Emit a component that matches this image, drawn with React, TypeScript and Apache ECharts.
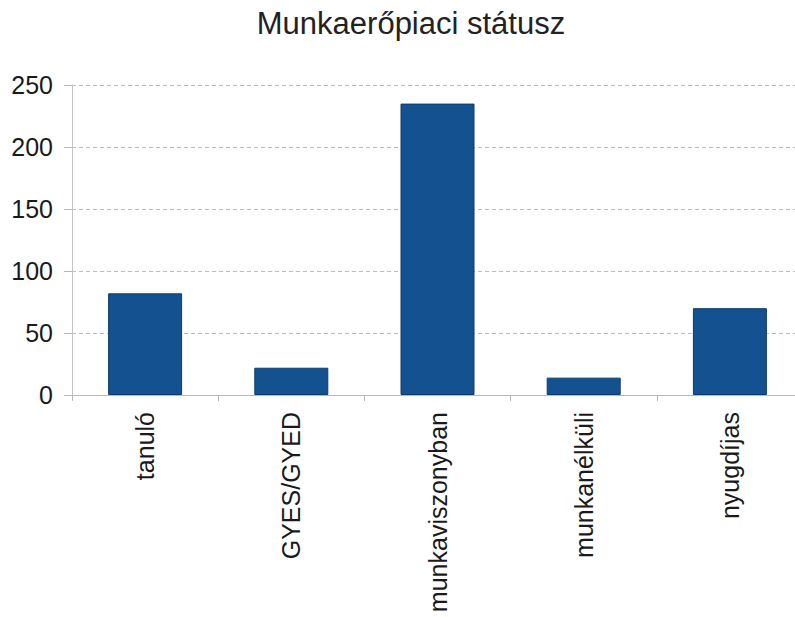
import React, { useEffect, useRef } from "react";
import * as echarts from "echarts";

const titleText = "Munkaerőpiaci státusz";
const categories = ["tanuló", "GYES/GYED", "munkaviszonyban", "munkanélküli", "nyugdíjas"];
const values = [82, 22, 235, 14, 70];
const yMin = 0;
const yMax = 250;
const yInterval = 50;

export default function App() {
  const ref = useRef<HTMLDivElement>(null);
  useEffect(() => {
    if (!ref.current) return;
    const chart = echarts.init(ref.current, null, { renderer: "svg" });
    chart.setOption({
      animation: false,
      backgroundColor: "#ffffff",
      title: {
        text: titleText,
        left: 406,
        top: 3,
        textAlign: "center",
        textStyle: {
          fontFamily: "Liberation Sans",
          fontSize: 31,
          fontWeight: "normal",
          color: "#222222",
        },
      },
      grid: { left: 72, right: 0, top: 85, height: 310, containLabel: false },
      xAxis: {
        type: "category",
        data: categories,
        axisLine: { show: true, lineStyle: { color: "#b8b8b8", width: 1 } },
        axisTick: { show: true, length: 6, lineStyle: { color: "#b8b8b8" } },
        axisLabel: {
          rotate: 90,
          margin: 17,
          fontFamily: "Liberation Sans",
          fontSize: 25,
          color: "#1a1a1a",
        },
      },
      yAxis: {
        type: "value",
        min: yMin,
        max: yMax,
        interval: yInterval,
        axisLine: { show: true, lineStyle: { color: "#c4c4c4", width: 1 } },
        axisTick: { show: true, inside: false, length: 8, lineStyle: { color: "#b8b8b8" } },
        splitLine: { show: true, lineStyle: { color: "#bdbdbd", width: 1, type: [4, 3] } },
        axisLabel: {
          margin: 19,
          fontFamily: "Liberation Sans",
          fontSize: 25,
          color: "#1a1a1a",
        },
      },
      series: [
        {
          type: "bar",
          data: values,
          barWidth: 74,
          itemStyle: { color: "#135191", borderColor: "#0e3c6a", borderWidth: 1 },
        },
      ],
    });
    return () => chart.dispose();
  }, []);
  return (
    <div
      ref={ref}
      style={{ position: "fixed", left: 0, top: 0, width: 803, height: 617 }}
    />
  );
}
